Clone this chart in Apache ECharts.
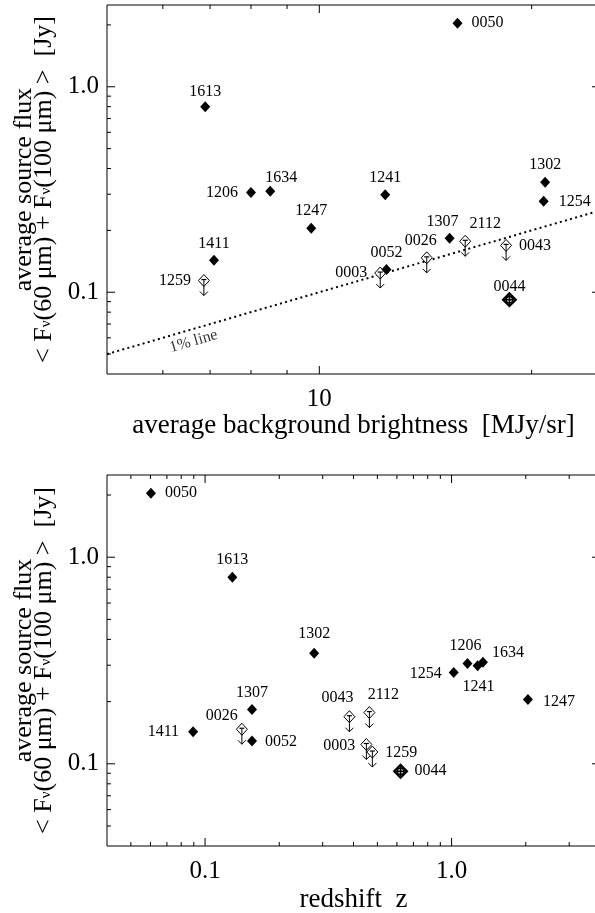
<!DOCTYPE html>
<html>
<head>
<meta charset="utf-8">
<script src="https://cdn.jsdelivr.net/npm/echarts@6/dist/echarts.min.js"></script>
<style>
  html, body { margin: 0; padding: 0; background: #fff; }
  #chart { width: 595px; height: 913px; }
</style>
</head>
<body>
<div id="chart"></div>
<script>
// Source identifiers and their measured quantities
const sources    = ['0003', '0026', '0043', '0044', '0050', '0052', '1206', '1241', '1247',
                    '1254', '1259', '1302', '1307', '1411', '1613', '1634', '2112'];
// <F(60um) + F(100um)> in Jy
const flux       = [0.124, 0.147, 0.169, 0.092, 2.04, 0.129, 0.306, 0.298, 0.205,
                    0.277, 0.114, 0.343, 0.183, 0.143, 0.80, 0.310, 0.177];
// average background brightness in MJy/sr
const brightness = [12.2, 14.2, 18.4, 18.6, 15.7, 12.45, 8.0, 12.4, 9.74,
                    20.8, 6.86, 20.9, 15.3, 7.09, 6.89, 8.52, 16.1];
// redshift z
const redshift   = [0.451, 0.141, 0.385, 0.621, 0.0603, 0.155, 1.16, 1.275, 2.04,
                    1.02, 0.477, 0.277, 0.155, 0.0894, 0.129, 1.34, 0.464];
// detected = filled diamond, limit = upper limit, extended = boxed cross
const kind       = ['limit', 'limit', 'limit', 'extended', 'detected', 'detected', 'detected', 'detected', 'detected',
                    'detected', 'limit', 'detected', 'detected', 'detected', 'detected', 'detected', 'limit'];

// 1% of the background brightness
const onePercentLine = [[5, 0.05], [25, 0.25]];
const onePercentLabelAt = [6.5, 0.065];

// axis ranges and tick values
const brightnessRange = [5, 25];
const redshiftRange   = [0.04, 4];
const fluxRange       = [0.04, 2.5];
const brightnessMajor = [10];
const brightnessMinor = [6, 7, 8, 9, 20];
const redshiftMajor   = [0.1, 1];
const redshiftMinor   = [0.05, 0.06, 0.07, 0.08, 0.09, 0.2, 0.3, 0.4, 0.5, 0.6, 0.7, 0.8, 0.9, 2, 3];
const fluxMajor       = [0.1, 1];
const fluxMinor       = [0.05, 0.06, 0.07, 0.08, 0.09, 0.2, 0.3, 0.4, 0.5, 0.6, 0.7, 0.8, 0.9, 2];

// label placement: [side, dx, dy]
const spotsBrightness = {
  '0003': ['left', 0, 0],  '0026': ['top', -6, 0],  '0043': ['right', 0, 0], '0044': ['top', 0, 4],
  '0050': ['right', 1, 0], '0052': ['top', 0, 0],   '1206': ['left', 0, 0],  '1241': ['top', 0, 0],
  '1247': ['top', 0, 0],   '1254': ['right', 2, 0], '1259': ['left', 0, 0],  '1302': ['top', 0, 0],
  '1307': ['top', -7, 0],  '1411': ['top', 0, 0],   '1613': ['top', 0, 2],   '1634': ['top', 11, 4],
  '2112': ['top', 20, 0]
};
const spotsRedshift = {
  '0003': ['left', 2, 1],  '0026': ['top', -20, 4], '0043': ['top', -12, -2], '0044': ['right', 1, 0],
  '0050': ['right', 1, 0], '0052': ['right', 0, 1], '1206': ['top', -2, -1],  '1241': ['bottom', 1, 0],
  '1247': ['right', 2, 2], '1254': ['left', 1, 1],  '1259': ['right', 0, 1],  '1302': ['top', 0, -2],
  '1307': ['top', 0, 0],   '1411': ['left', -1, 0], '1613': ['top', 0, 0],    '1634': ['right', -4, -9],
  '2112': ['top', 14, -1]
};

const SERIF = '"Liberation Serif", "Times New Roman", serif';
const INK = '#000';

function diamond(cx, cy, hw, hh) {
  return [[cx, cy - hh], [cx + hw, cy], [cx, cy + hh], [cx - hw, cy]];
}

function drawMarker(k, cx, cy) {
  const line = (x1, y1, x2, y2, w) => ({
    type: 'line', shape: { x1, y1, x2, y2 }, style: { stroke: INK, lineWidth: w || 1 }
  });
  if (k === 'detected') {
    return [{ type: 'polygon', shape: { points: diamond(cx, cy, 5, 5.5) }, style: { fill: INK } }];
  }
  if (k === 'limit') {
    return [
      { type: 'polygon', shape: { points: diamond(cx, cy, 5.5, 6) },
        style: { fill: '#fff', stroke: INK, lineWidth: 1 } },
      line(cx - 2.5, cy - 1, cx + 2.5, cy - 1, 1.2),
      line(cx, cy - 1, cx, cy + 15, 1),
      { type: 'polyline', shape: { points: [[cx - 4, cy + 11], [cx, cy + 15], [cx + 4, cy + 11]] },
        style: { stroke: INK, lineWidth: 1, fill: null } }
    ];
  }
  return [
    { type: 'polygon', shape: { points: diamond(cx, cy, 6.5, 6.5) },
      style: { fill: '#fff', stroke: INK, lineWidth: 2 } },
    { type: 'circle', shape: { cx, cy, r: 3.3 }, style: { fill: null, stroke: INK, lineWidth: 1.6 } },
    line(cx - 6.5, cy, cx + 6.5, cy, 1.6),
    line(cx, cy - 6.5, cx, cy + 6.5, 1.6)
  ];
}

function labelText(text, spot, cx, cy) {
  const side = spot[0], dx = spot[1], dy = spot[2];
  let x = cx + dx, y = cy + dy, align = 'center';
  if (side === 'top') y -= 17;
  else if (side === 'bottom') y += 21;
  else if (side === 'left') { x -= 13; align = 'right'; }
  else { x += 13; align = 'left'; }
  return {
    type: 'text', x, y,
    style: { text, fill: INK, fontSize: 16, fontFamily: SERIF, align, verticalAlign: 'middle' }
  };
}

function markerSeries(idx, xs, spots) {
  return {
    type: 'custom', xAxisIndex: idx, yAxisIndex: idx, z: 5, silent: true,
    data: xs.map((x, i) => [x, flux[i]]),
    renderItem(params, api) {
      const i = params.dataIndex;
      const p = api.coord([api.value(0), api.value(1)]);
      const kids = drawMarker(kind[i], p[0], p[1]);
      kids.push(labelText(sources[i], spots[sources[i]], p[0], p[1]));
      return { type: 'group', children: kids };
    }
  };
}

const MAJOR_LEN = 8, MINOR_LEN = 4;
function tickSeries(idx, xRange, xMajor, xMinor) {
  const items = [], meta = [];
  const add = (pt, side, len) => { items.push(pt); meta.push([side, len]); };
  xMajor.forEach(v => { add([v, fluxRange[0]], 'b', MAJOR_LEN); add([v, fluxRange[1]], 't', MAJOR_LEN); });
  xMinor.forEach(v => { add([v, fluxRange[0]], 'b', MINOR_LEN); add([v, fluxRange[1]], 't', MINOR_LEN); });
  fluxMajor.forEach(v => { add([xRange[0], v], 'l', MAJOR_LEN); add([xRange[1], v], 'r', MAJOR_LEN); });
  fluxMinor.forEach(v => { add([xRange[0], v], 'l', MINOR_LEN); });
  return {
    type: 'custom', xAxisIndex: idx, yAxisIndex: idx, z: 4, silent: true,
    data: items,
    renderItem(params, api) {
      const m = meta[params.dataIndex];
      const p = api.coord([api.value(0), api.value(1)]);
      let dx = 0, dy = 0;
      if (m[0] === 'b') dy = -m[1];
      else if (m[0] === 't') dy = m[1];
      else if (m[0] === 'l') dx = m[1];
      else dx = -m[1];
      return { type: 'line', shape: { x1: p[0], y1: p[1], x2: p[0] + dx, y2: p[1] + dy },
               style: { stroke: INK, lineWidth: 1 } };
    }
  };
}

function decadeLabel(v) {
  const l = Math.log10(v);
  if (Math.abs(l - Math.round(l)) > 1e-6) return '';
  return v >= 10 ? String(Math.round(v)) : v.toFixed(1);
}

function xAxisFor(idx, range, title, gap) {
  return {
    type: 'log', logBase: 10, gridIndex: idx, min: range[0], max: range[1],
    name: title, nameLocation: 'middle', nameGap: gap,
    nameTextStyle: { fontFamily: SERIF, fontSize: 27, color: INK },
    axisLine: { show: false }, axisTick: { show: false }, splitLine: { show: false },
    axisLabel: { formatter: decadeLabel, margin: 13, fontFamily: SERIF, fontSize: 25, color: INK }
  };
}

const fluxTitle = 'average source flux\n< F{sub|ν}(60 μm) + F{sub|ν}(100 μm) >  [Jy]';
function yAxisFor(idx) {
  return {
    type: 'log', logBase: 10, gridIndex: idx, min: fluxRange[0], max: fluxRange[1],
    name: fluxTitle, nameLocation: 'middle', nameGap: 42, nameRotate: 90,
    nameTextStyle: {
      fontFamily: SERIF, fontSize: 26, color: INK, lineHeight: 20, align: 'center',
      rich: { sub: { fontFamily: SERIF, fontSize: 15, color: INK, verticalAlign: 'bottom', lineHeight: 13 } }
    },
    axisLine: { show: false }, axisTick: { show: false }, splitLine: { show: false },
    axisLabel: { formatter: decadeLabel, margin: 8, fontFamily: SERIF, fontSize: 25, color: INK }
  };
}

const chart = echarts.init(document.getElementById('chart'), null, { renderer: 'canvas' });
chart.setOption({
  animation: false,
  backgroundColor: '#fff',
  grid: [
    { left: 107, top: 5, width: 493, height: 369, show: true, borderColor: INK, borderWidth: 1,
      backgroundColor: 'transparent', containLabel: false, outerBoundsMode: 'none' },
    { left: 107, top: 475, width: 493, height: 371, show: true, borderColor: INK, borderWidth: 1,
      backgroundColor: 'transparent', containLabel: false, outerBoundsMode: 'none' }
  ],
  xAxis: [
    xAxisFor(0, brightnessRange, 'average background brightness  [MJy/sr]', 38),
    xAxisFor(1, redshiftRange, 'redshift  z', 40)
  ],
  yAxis: [yAxisFor(0), yAxisFor(1)],
  series: [
    {
      type: 'line', xAxisIndex: 0, yAxisIndex: 0, data: onePercentLine, showSymbol: false, silent: true, z: 3,
      lineStyle: { color: INK, width: 2, type: [2, 3.3] }
    },
    {
      type: 'scatter', xAxisIndex: 0, yAxisIndex: 0, data: [onePercentLabelAt], symbolSize: 0, silent: true, z: 3,
      label: { show: true, formatter: '1% line', position: 'inside', rotate: 16, offset: [3, 12],
               fontFamily: SERIF, fontSize: 16, color: INK }
    },
    tickSeries(0, brightnessRange, brightnessMajor, brightnessMinor),
    tickSeries(1, redshiftRange, redshiftMajor, redshiftMinor),
    markerSeries(0, brightness, spotsBrightness),
    markerSeries(1, redshift, spotsRedshift)
  ]
});
</script>
</body>
</html>
